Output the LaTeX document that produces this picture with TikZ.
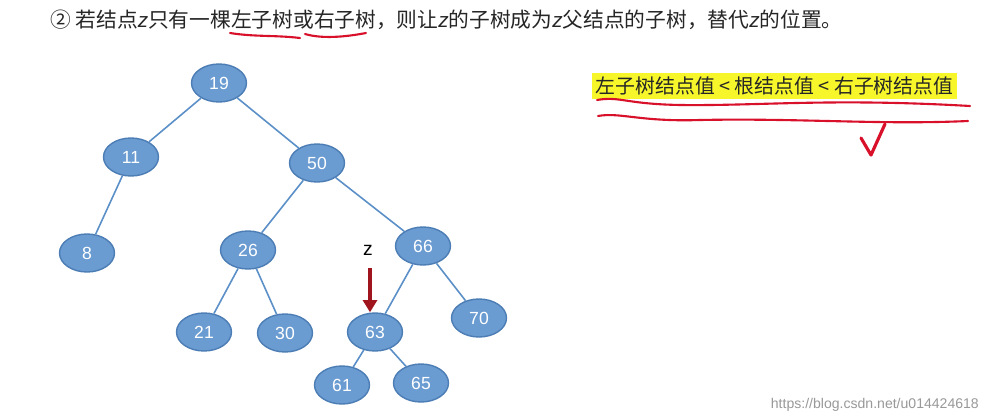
\documentclass[tikz,border=0pt]{standalone}
\usepackage{fontspec}
\setmainfont{Liberation Sans}
\newfontfamily\cjk{Noto Sans CJK SC}
\usetikzlibrary{shapes.geometric,arrows.meta}
\definecolor{nodefill}{HTML}{6A9BD1}
\definecolor{nodeedge}{HTML}{4C7DB5}
\definecolor{edgecol}{HTML}{5B8FC7}
\definecolor{inkred}{HTML}{D8102A}
\definecolor{arrred}{HTML}{A0141E}
\definecolor{hl}{HTML}{F6F62A}
\newcommand{\zi}{{\rmfamily\itshape z}}
\begin{document}
\begin{tikzpicture}[x=0.02cm,y=-0.02cm,
  tn/.style={ellipse,draw=nodeedge,fill=nodefill,line width=0.8pt,minimum width=1.1cm,minimum height=0.76cm,inner sep=0pt,text=white,font=\fontsize{10pt}{12pt}\selectfont},
  te/.style={draw=edgecol,line width=0.9pt},
  ink/.style={draw=inkred,line width=1.2pt,line cap=round}]
\useasboundingbox (0,0) rectangle (989,419);
\fill[white] (0,0) rectangle (989,419);
\node[anchor=west,font=\cjk\fontsize{11.8pt}{13pt}\selectfont,text=black!85] (title) at (44,20) {② 若结点\zi 只有一棵左子树或右子树，则让\zi 的子树成为\zi 父结点的子树，替代\zi 的位置。};
\draw[ink] (230,33) .. controls (255,37) and (275,35) .. (300,38);
\draw[ink] (305,34) .. controls (322,39) and (345,37) .. (366,33);
% tree
\node[tn] (n19) at (219,83) {19};
\node[tn] (n11) at (131,157) {11};
\node[tn] (n50) at (317,163) {50};
\node[tn] (n8) at (87,253) {8};
\node[tn] (n26) at (248,250) {26};
\node[tn] (n66) at (423,246) {66};
\node[tn] (n21) at (204,332) {21};
\node[tn] (n30) at (285,333) {30};
\node[tn] (n63) at (375,332) {63};
\node[tn] (n70) at (479,318) {70};
\node[tn] (n61) at (342,385) {61};
\node[tn] (n65) at (421,383) {65};
\draw[te] (n19)--(n11); \draw[te] (n19)--(n50);
\draw[te] (n11)--(n8); \draw[te] (n50)--(n26); \draw[te] (n50)--(n66);
\draw[te] (n26)--(n21); \draw[te] (n26)--(n30);
\draw[te] (n66)--(n63); \draw[te] (n66)--(n70);
\draw[te] (n63)--(n61); \draw[te] (n63)--(n65);
% z arrow
\node[font=\fontsize{11pt}{12pt}\selectfont] (zl) at (368,250) {z};
\coordinate (za) at (370,268);
\draw[arrred,line width=2.2pt,-{Triangle[length=7pt,width=8pt]}] (za) -- (n63.north -| za);
% highlight
\node[fill=hl,anchor=west,inner sep=2pt,font=\cjk\fontsize{11.3pt}{13pt}\selectfont,text=black!85] (rule) at (592,86) {左子树结点值 < 根结点值 < 右子树结点值};
\draw[ink] (597,100) .. controls (620,96) and (625,104) .. (680,105) .. controls (760,106) and (830,98) .. (970,106);
\draw[ink] (598,116) .. controls (620,112) and (640,122) .. (700,120) .. controls (800,118) and (880,125) .. (968,121);
\draw[ink,line width=1.8pt,line join=round] (861,138) -- (871,155) -- (885,124);
\node[anchor=east,text=gray!80,font=\fontsize{8pt}{9pt}\selectfont] (wm) at (985,405) {https://blog.csdn.net/u014424618};
\end{tikzpicture}
\end{document}
